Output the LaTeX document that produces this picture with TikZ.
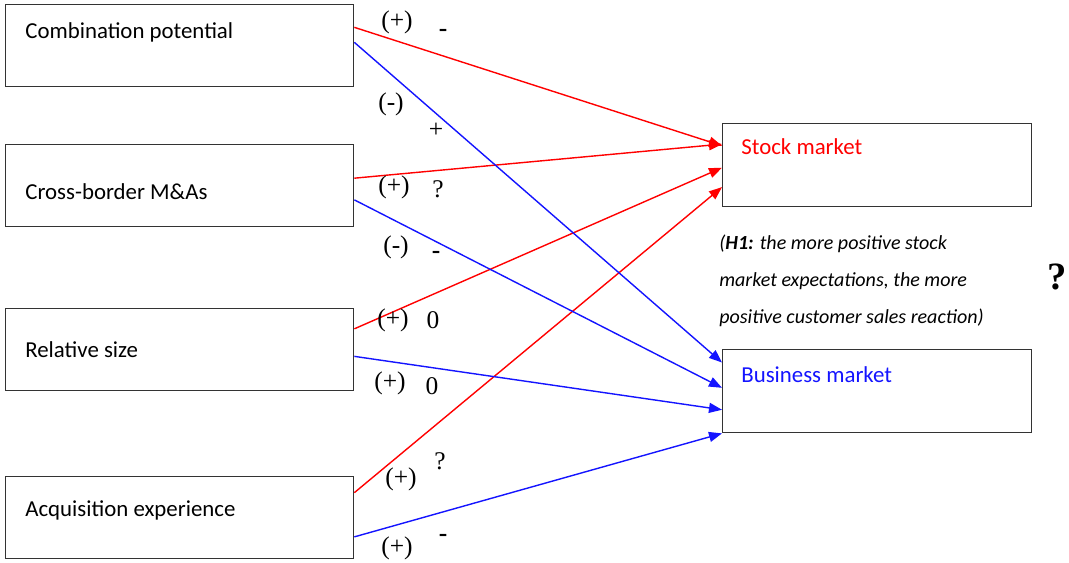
\documentclass[tikz,border=0pt]{standalone}
\usepackage{fontspec}
\setmainfont{Carlito}
\newfontfamily\signfont{Liberation Serif}
\usetikzlibrary{arrows.meta,calc}
\definecolor{stockred}{RGB}{255,0,0}
\definecolor{bizblue}{RGB}{20,20,255}
\tikzset{
    varbox/.style={
        draw=black!80,
        line width=0.8pt,
        anchor=north west,
        inner sep=0pt,
        minimum width=6.96cm,
        minimum height=1.64cm
    },
    marketbox/.style={
        varbox,
        minimum width=6.18cm,
        minimum height=1.66cm
    },
    boxtext/.style={
        anchor=west,
        inner sep=0pt,
        font=\fontsize{13}{15}\selectfont
    },
    sign/.style={
        inner sep=0pt,
        font=\signfont\fontsize{14.5}{16}\selectfont
    },
    redarrow/.style={
        -{Triangle[length=2.6mm,width=2mm]},
        line width=0.8pt,
        draw=stockred
    },
    bluearrow/.style={
        -{Triangle[length=2.6mm,width=2mm]},
        line width=0.8pt,
        draw=bizblue
    }
}
\begin{document}
\begin{tikzpicture}[x=0.02cm,y=-0.02cm]
    \useasboundingbox (0,0) rectangle (1069,563);

    % antecedents
    \node[varbox] (combo) at (5,4) {};
    \node[varbox] (cross) at (5,144) {};
    \node[varbox] (relsize) at (5,308) {};
    \node[varbox] (acq) at (5,476) {};
    \node[boxtext] (combotext) at ($(combo.north west)+(20,28)$) {Combination potential};
    \node[boxtext] (crosstext) at ($(cross.north west)+(20,48)$) {Cross-border M\&As};
    \node[boxtext] (relsizetext) at ($(relsize.north west)+(20,42)$) {Relative size};
    \node[boxtext] (acqtext) at ($(acq.north west)+(20,34)$) {Acquisition experience};

    % outcomes
    \node[marketbox] (stock) at (722,123) {};
    \node[marketbox] (business) at (722,349) {};
    \node[boxtext, text=stockred] (stocktext) at ($(stock.north west)+(19,24)$) {Stock market};
    \node[boxtext, text=bizblue] (businesstext) at ($(business.north west)+(19,26)$) {Business market};

    \node[
        anchor=north west,
        inner sep=0pt,
        align=left,
        font=\itshape\fontsize{11.4}{21}\selectfont
    ] (hypo) at (719,235)
        {(\textbf{H1:} the more positive stock\\
        market expectations, the more\\
        positive customer sales reaction)};
    \node[font=\signfont\bfseries\fontsize{22}{24}\selectfont, inner sep=0pt] (query) at (1057,277) {?};

    % links to the stock market
    \draw[redarrow] ($(combo.north east)!0.28!(combo.south east)$) -- ($(stock.north west)!0.27!(stock.south west)$);
    \draw[redarrow] ($(cross.north east)!0.41!(cross.south east)$) -- ($(stock.north west)!0.25!(stock.south west)$);
    \draw[redarrow] ($(relsize.north east)!0.25!(relsize.south east)$) -- ($(stock.north west)!0.53!(stock.south west)$);
    \draw[redarrow] ($(acq.north east)!0.2!(acq.south east)$) -- ($(stock.north west)!0.76!(stock.south west)$);

    % links to the business market
    \draw[bluearrow] ($(combo.north east)!0.46!(combo.south east)$) -- ($(business.north west)!0.16!(business.south west)$);
    \draw[bluearrow] ($(cross.north east)!0.67!(cross.south east)$) -- ($(business.north west)!0.46!(business.south west)$);
    \draw[bluearrow] ($(relsize.north east)!0.58!(relsize.south east)$) -- ($(business.north west)!0.72!(business.south west)$);
    \draw[bluearrow] ($(acq.north east)!0.73!(acq.south east)$) -- (business.south west);

    % expected signs
    \node[sign] (s1a) at (397,22) {(+)};
    \node[sign] (s1b) at (443,33) {\textbf{-}};
    \node[sign] (s2a) at (391,104) {(-)};
    \node[sign] (s2b) at (436,130) {+};
    \node[sign] (s3a) at (394,187) {(+)};
    \node[sign] (s3b) at (438,189) {?};
    \node[sign] (s4a) at (396,247) {(-)};
    \node[sign] (s4b) at (436,255) {\textbf{-}};
    \node[sign] (s5a) at (393,320) {(+)};
    \node[sign] (s5b) at (433,320) {0};
    \node[sign] (s6a) at (390,383) {(+)};
    \node[sign] (s6b) at (432,386) {0};
    \node[sign] (s7a) at (401,479) {(+)};
    \node[sign] (s7b) at (440,461) {?};
    \node[sign] (s8a) at (397,548) {(+)};
    \node[sign] (s8b) at (443,538) {\textbf{-}};
\end{tikzpicture}
\end{document}
